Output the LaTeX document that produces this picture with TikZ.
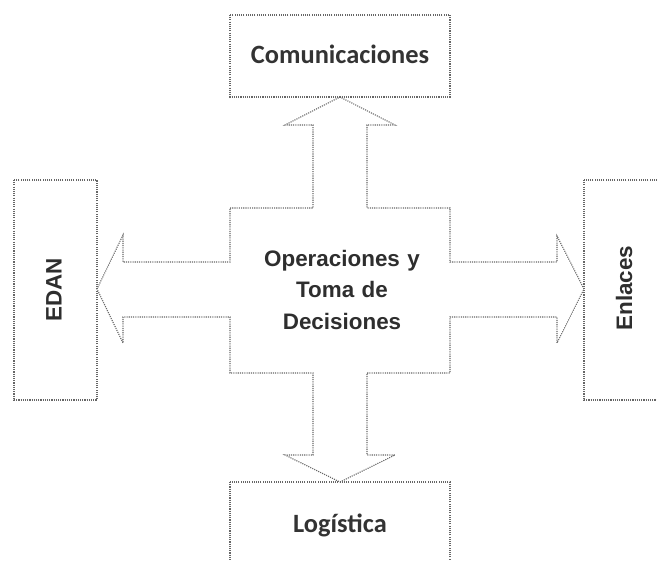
\documentclass[tikz,border=0pt]{standalone}
\usepackage{fontspec}
\setmainfont{Liberation Sans}
\newfontfamily\calib{Carlito}
\begin{document}
\begin{tikzpicture}[x=1bp,y=-1bp,
  dotline/.style={draw=black!60, line width=1.1bp, dash pattern=on 1.1bp off 1.1bp},
  lbl/.style={text=black!82, font=\bfseries\fontsize{22.5}{32}\selectfont, align=center},
  clbl/.style={text=black!80, font=\calib\bfseries\fontsize{26.5}{32}\selectfont}]
\useasboundingbox (0,0) rectangle (657,561);
\clip (0,0) rectangle (657,561);
% boxes
\draw[dotline] (230,15) rectangle (450,97);
\draw[dotline] (14,180) rectangle (97,400);
\draw[dotline] (584,180) rectangle (680,400);
\draw[dotline] (230,482) rectangle (450,600);
% four-way arrow
\draw[dotline] (230,208) -- (313,208) -- (313,125) -- (285,125) -- (340,97)
  -- (395,125) -- (367,125) -- (367,208) -- (450,208) -- (450,262)
  -- (557,262) -- (557,236) -- (584,289) -- (557,343) -- (557,317)
  -- (450,317) -- (450,373) -- (367,373) -- (367,455) -- (395,455)
  -- (340,482) -- (285,455) -- (313,455) -- (313,373) -- (230,373)
  -- (230,317) -- (123,317) -- (123,343) -- (97,289) -- (123,235)
  -- (123,262) -- (230,262) -- cycle;
% labels
\node[clbl, anchor=base] (com) at (340,64) {Comunicaciones};
\node[clbl, anchor=base] (log) at (340,532) {Logística};
\node[lbl, rotate=90] (edan) at (54,290) {EDAN};
\node[lbl, rotate=90] (enl) at (624,288) {Enlaces};
\node[lbl, anchor=base, text width=200bp] (ops) at (342,266) {Operaciones y\\Toma de\\Decisiones};
\end{tikzpicture}
\end{document}
